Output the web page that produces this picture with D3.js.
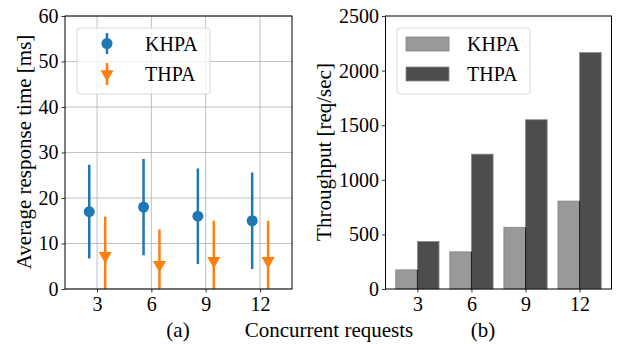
<!DOCTYPE html>
<html>
<head>
<meta charset="utf-8">
<script src="https://cdn.jsdelivr.net/npm/d3@7"></script>
<style>
  body { margin: 0; background: #fff; }
  svg text { font-family: "Liberation Serif", "Times New Roman", serif !important; fill: #000; }
</style>
</head>
<body>
<svg id="chart" width="619" height="344"></svg>
<script>
// data
const requests = [3, 6, 9, 12];
const khpaResp = [17, 18, 16, 15];
const khpaErr = [10.3, 10.6, 10.5, 10.6];
const thpaResp = [7.3, 5.3, 6.2, 6.2];
const thpaErr = [8.6, 7.8, 8.8, 8.8];
const khpaThru = [175, 340, 565, 805];
const thpaThru = [435, 1235, 1550, 2165];
const respTicks = [0, 10, 20, 30, 40, 50, 60];
const thruTicks = [0, 500, 1000, 1500, 2000, 2500];

const svg = d3.select("#chart");
const fontSize = 20, labelSize = 21;
const yTop = 16, yBot = 289;

// left panel: response time
const xa = d3.scaleLinear().domain([1.23, 13.77]).range([65, 292]);
const ya = d3.scaleLinear().domain([0, 60]).range([yBot, yTop]);

const ga = svg.append("g");
ga.append("clipPath").attr("id", "clipA").append("rect")
  .attr("x", 65).attr("y", yTop).attr("width", 227).attr("height", yBot - yTop);

// grid
ga.append("g").selectAll("line").data(respTicks).enter().append("line")
  .attr("x1", 65).attr("x2", 292)
  .attr("y1", d => ya(d)).attr("y2", d => ya(d))
  .attr("stroke", "#b0b0b0").attr("stroke-width", 0.8);
ga.append("g").selectAll("line").data(requests).enter().append("line")
  .attr("x1", d => xa(d)).attr("x2", d => xa(d))
  .attr("y1", yTop).attr("y2", yBot)
  .attr("stroke", "#b0b0b0").attr("stroke-width", 0.8);

const blue = "#1f77b4", orange = "#ff7f0e";
const plotA = ga.append("g").attr("clip-path", "url(#clipA)");

plotA.selectAll(".errK").data(requests).enter().append("line")
  .attr("x1", d => xa(d - 0.43)).attr("x2", d => xa(d - 0.43))
  .attr("y1", (d, i) => ya(khpaResp[i] - khpaErr[i]))
  .attr("y2", (d, i) => ya(khpaResp[i] + khpaErr[i]))
  .attr("stroke", blue).attr("stroke-width", 2.5);
plotA.selectAll(".ptK").data(requests).enter().append("circle")
  .attr("cx", d => xa(d - 0.43)).attr("cy", (d, i) => ya(khpaResp[i]))
  .attr("r", 5.5).attr("fill", blue);

plotA.selectAll(".errT").data(requests).enter().append("line")
  .attr("x1", d => xa(d + 0.45)).attr("x2", d => xa(d + 0.45))
  .attr("y1", (d, i) => ya(thpaResp[i] - thpaErr[i]))
  .attr("y2", (d, i) => ya(thpaResp[i] + thpaErr[i]))
  .attr("stroke", orange).attr("stroke-width", 2.5);
const tri = d3.symbol().type(d3.symbolTriangle).size(75);
plotA.selectAll(".ptT").data(requests).enter().append("path")
  .attr("d", tri)
  .attr("transform", (d, i) => `translate(${xa(d + 0.45)},${ya(thpaResp[i])}) rotate(180)`)
  .attr("fill", orange);

// axes
ga.append("g").attr("transform", `translate(0,${yBot})`)
  .call(d3.axisBottom(xa).tickValues(requests).tickSize(3.5).tickPadding(4))
  .call(g => g.select(".domain").remove());
ga.append("g").attr("transform", "translate(65,0)")
  .call(d3.axisLeft(ya).tickValues(respTicks).tickSize(3.5).tickPadding(3))
  .call(g => g.select(".domain").remove());
ga.append("rect").attr("x", 65).attr("y", yTop).attr("width", 227).attr("height", yBot - yTop)
  .attr("fill", "none").attr("stroke", "#000").attr("stroke-width", 1);

ga.append("text").attr("transform", "translate(31,152) rotate(-90)")
  .attr("text-anchor", "middle").attr("font-size", labelSize)
  .text("Average response time [ms]");

// legend a
const la = ga.append("g");
la.append("rect").attr("x", 77).attr("y", 28).attr("width", 133).attr("height", 66)
  .attr("rx", 3).attr("fill", "#fff").attr("fill-opacity", 0.8)
  .attr("stroke", "#d9d9d9").attr("stroke-width", 1);
la.append("line").attr("x1", 107).attr("x2", 107).attr("y1", 33).attr("y2", 54)
  .attr("stroke", blue).attr("stroke-width", 2.5);
la.append("circle").attr("cx", 107).attr("cy", 43.5).attr("r", 5.5).attr("fill", blue);
la.append("line").attr("x1", 107).attr("x2", 107).attr("y1", 63).attr("y2", 85)
  .attr("stroke", orange).attr("stroke-width", 2.5);
la.append("path").attr("d", tri).attr("transform", "translate(107,74) rotate(180)").attr("fill", orange);
la.append("text").attr("x", 145).attr("y", 51).attr("font-size", fontSize).text("KHPA");
la.append("text").attr("x", 145).attr("y", 81).attr("font-size", fontSize).text("THPA");

// right panel: throughput
const xb = d3.scaleLinear().domain([1.23, 13.77]).range([385.5, 611.5]);
const yb = d3.scaleLinear().domain([0, 2500]).range([yBot, yTop]);
const gb = svg.append("g");
const barW = 1.2;

gb.selectAll(".barK").data(requests).enter().append("rect")
  .attr("x", d => xb(d - barW)).attr("width", d => xb(d) - xb(d - barW))
  .attr("y", (d, i) => yb(khpaThru[i])).attr("height", (d, i) => yBot - yb(khpaThru[i]))
  .attr("fill", "#999999").attr("stroke", "#808080").attr("stroke-width", 0.8);
gb.selectAll(".barT").data(requests).enter().append("rect")
  .attr("x", d => xb(d)).attr("width", d => xb(d + barW) - xb(d))
  .attr("y", (d, i) => yb(thpaThru[i])).attr("height", (d, i) => yBot - yb(thpaThru[i]))
  .attr("fill", "#4d4d4d").attr("stroke", "#8a8a8a").attr("stroke-width", 0.8);
gb.selectAll(".sep").data(requests).enter().append("line")
  .attr("x1", d => xb(d)).attr("x2", d => xb(d))
  .attr("y1", (d, i) => yb(khpaThru[i])).attr("y2", yBot)
  .attr("stroke", "#000").attr("stroke-width", 0.8);

gb.append("g").attr("transform", `translate(0,${yBot})`)
  .call(d3.axisBottom(xb).tickValues(requests).tickSize(3.5).tickPadding(4))
  .call(g => g.select(".domain").remove());
gb.append("g").attr("transform", "translate(385.5,0)")
  .call(d3.axisLeft(yb).tickValues(thruTicks).tickFormat(d3.format("d")).tickSize(3.5).tickPadding(3))
  .call(g => g.select(".domain").remove());
gb.append("rect").attr("x", 385.5).attr("y", yTop).attr("width", 226).attr("height", yBot - yTop)
  .attr("fill", "none").attr("stroke", "#000").attr("stroke-width", 1);

gb.append("text").attr("transform", "translate(331,152) rotate(-90)")
  .attr("text-anchor", "middle").attr("font-size", labelSize)
  .text("Throughput [req/sec]");

const lb = gb.append("g");
lb.append("rect").attr("x", 397).attr("y", 28).attr("width", 133).attr("height", 66)
  .attr("rx", 3).attr("fill", "#fff").attr("fill-opacity", 0.8)
  .attr("stroke", "#d9d9d9").attr("stroke-width", 1);
lb.append("rect").attr("x", 406).attr("y", 37).attr("width", 43).attr("height", 14)
  .attr("fill", "#999999").attr("stroke", "#808080").attr("stroke-width", 0.8);
lb.append("rect").attr("x", 406).attr("y", 67).attr("width", 43).attr("height", 14)
  .attr("fill", "#4d4d4d").attr("stroke", "#8a8a8a").attr("stroke-width", 0.8);
lb.append("text").attr("x", 467).attr("y", 51).attr("font-size", fontSize).text("KHPA");
lb.append("text").attr("x", 467).attr("y", 81).attr("font-size", fontSize).text("THPA");

// tick styling
svg.selectAll(".tick text").attr("font-size", fontSize);
svg.selectAll(".tick line").attr("stroke", "#000").attr("stroke-width", 0.8);

// captions
svg.append("text").attr("x", 178).attr("y", 337).attr("text-anchor", "middle")
  .attr("font-size", labelSize).text("(a)");
svg.append("text").attr("x", 329).attr("y", 337).attr("text-anchor", "middle")
  .attr("font-size", labelSize).text("Concurrent requests");
svg.append("text").attr("x", 483).attr("y", 337).attr("text-anchor", "middle")
  .attr("font-size", labelSize).text("(b)");
</script>
</body>
</html>
